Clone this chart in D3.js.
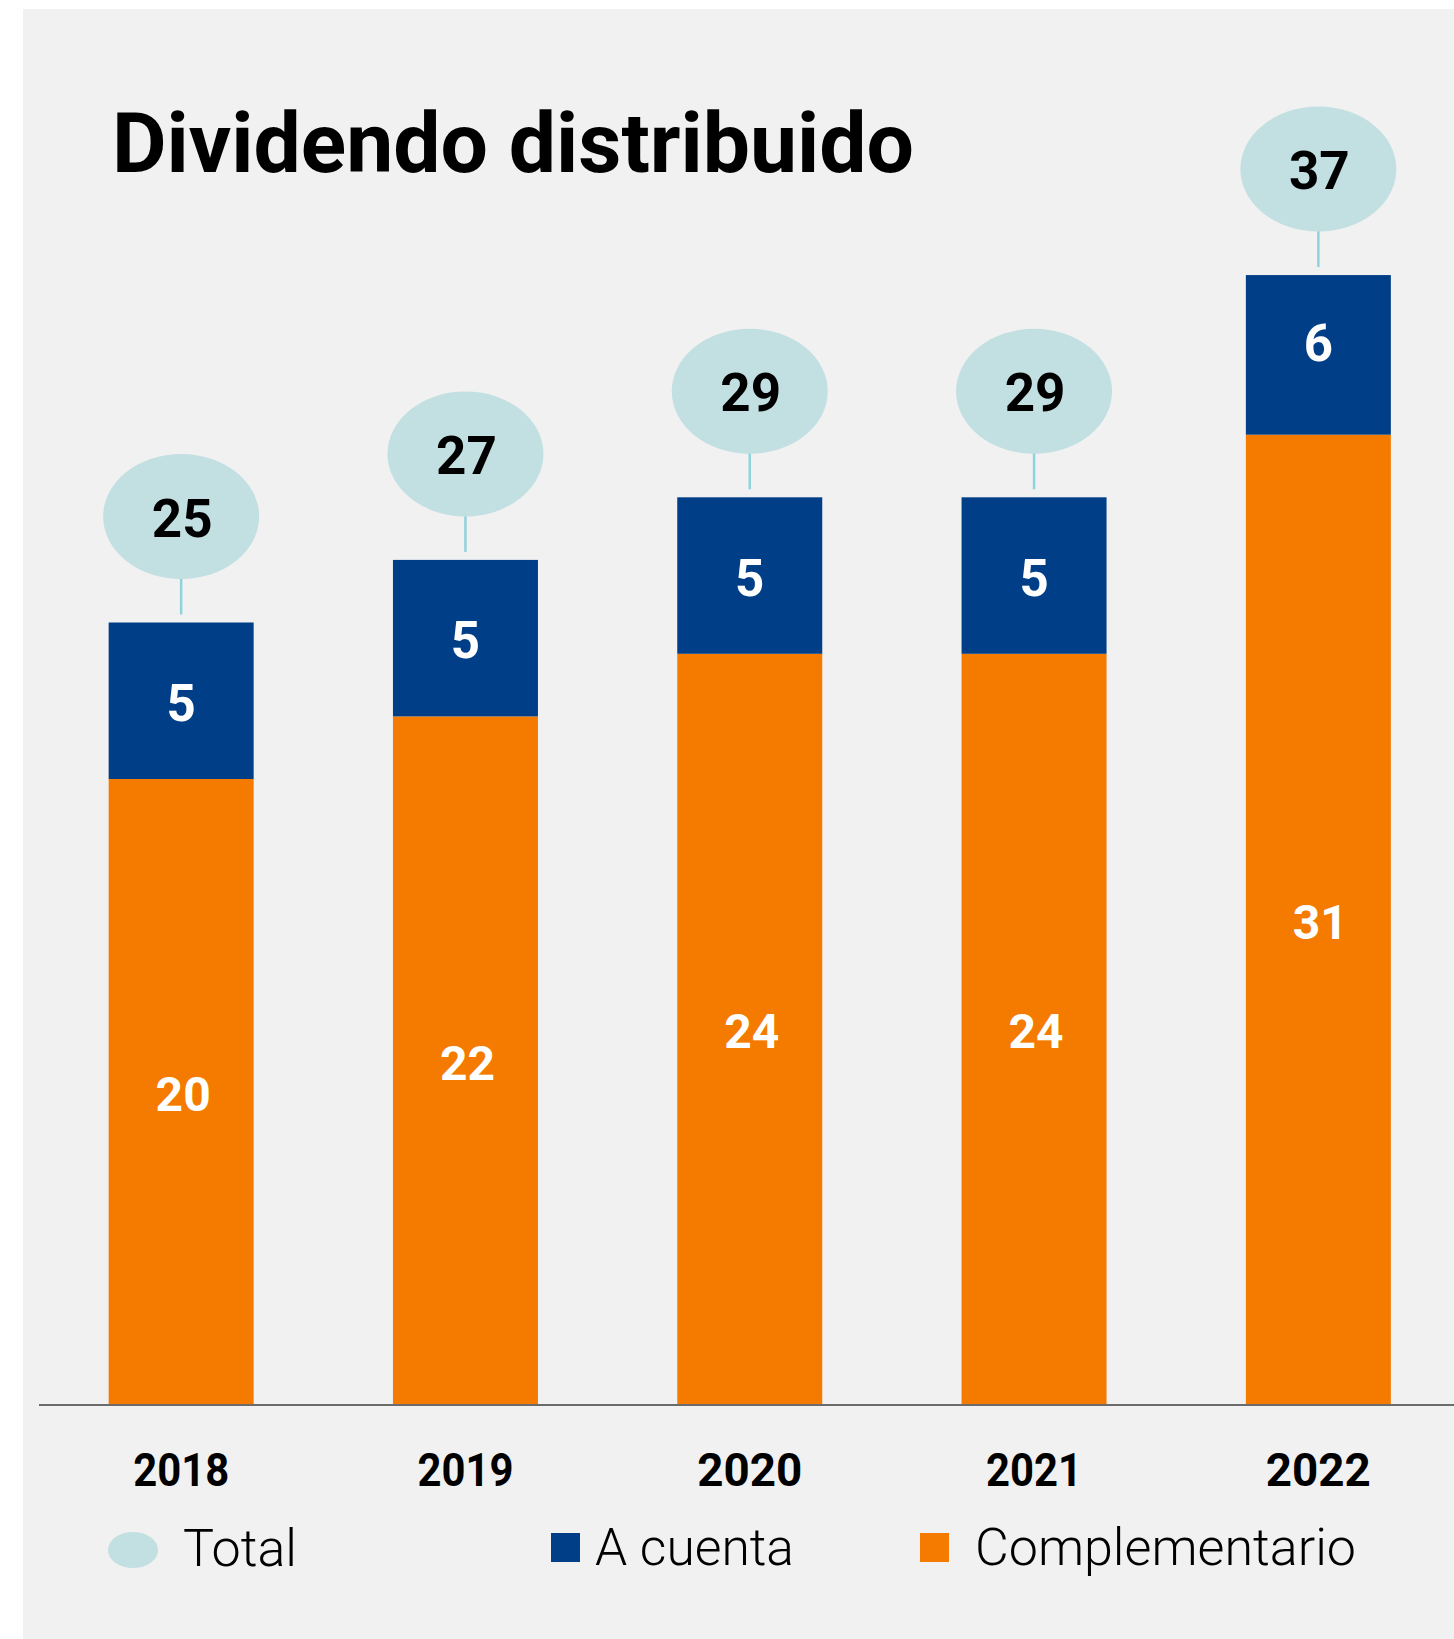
<!DOCTYPE html>
<html>
<head>
<meta charset="utf-8">
<script src="https://cdn.jsdelivr.net/npm/d3@7"></script>
<style>
  html, body { margin: 0; padding: 0; background: #ffffff; }
  svg { display: block; }
  text { font-family: Roboto, "Noto Sans", sans-serif; }
</style>
</head>
<body>
<svg id="chart" width="1454" height="1639"></svg>
<script>
// ---- data ----
const years = ["2018", "2019", "2020", "2021", "2022"];
const complementario = [20, 22, 24, 24, 31];          // orange segment
const aCuenta = [5, 5, 5, 5, 5.1];                    // blue segment (drawn height)
const aCuentaLabels = [5, 5, 5, 5, 6];                // blue segment labels
const totalLabels = [25, 27, 29, 29, 37];             // bubble labels
const legendLabels = ["Total", "A cuenta", "Complementario"];
const titleText = "Dividendo distribuido";

const colors = { comp: "#f47b00", cuenta: "#003f87", total: "#c2dfe1", stem: "#8fd3dc" };

const svg = d3.select("#chart");

// panel background
svg.append("rect").attr("x", 23).attr("y", 9).attr("width", 1454 - 23).attr("height", 1639 - 9)
  .attr("fill", "#f1f1f1");

// scales
const x = d3.scaleBand().domain(years).range([39, 1460.5]).paddingInner(0.49).paddingOuter(0.245);
const y = d3.scaleLinear().domain([0, 40]).range([1405, 1405 - 40 * 31.3]);

// title
svg.append("text").attr("x", 112).attr("y", 172)
  .attr("font-size", 84).attr("font-weight", 700).attr("fill", "#000")
  .attr("textLength", 802).attr("lengthAdjust", "spacingAndGlyphs")
  .text(titleText);

const rows = years.map((yr, i) => ({
  year: yr, comp: complementario[i], cuenta: aCuenta[i],
  cuentaLabel: aCuentaLabels[i], total: totalLabels[i]
}));

const g = svg.append("g");

// orange bars
g.selectAll(".comp").data(rows).join("rect").attr("class", "comp")
  .attr("x", d => x(d.year)).attr("width", x.bandwidth())
  .attr("y", d => y(d.comp)).attr("height", d => y(0) - y(d.comp))
  .attr("fill", colors.comp);

// blue bars
g.selectAll(".cuenta").data(rows).join("rect").attr("class", "cuenta")
  .attr("x", d => x(d.year)).attr("width", x.bandwidth())
  .attr("y", d => y(d.comp + d.cuenta)).attr("height", d => y(d.comp) - y(d.comp + d.cuenta))
  .attr("fill", colors.cuenta);

// baseline axis
const xAxis = d3.axisBottom(x).tickSize(0).tickPadding(0).tickFormat("");
const axG = svg.append("g").attr("transform", `translate(0,${y(0)})`).call(xAxis);
axG.select(".domain").attr("stroke", "#6b6b6b").attr("stroke-width", 2).attr("d", "M39,0H1454");

// year labels (proportional digits: narrower "1")
svg.selectAll(".year").data(rows).join("text").attr("class", "year")
  .attr("x", d => x(d.year) + x.bandwidth() / 2).attr("y", 1486)
  .attr("text-anchor", "middle").attr("font-size", 47).attr("font-weight", 700).attr("fill", "#000")
  .attr("textLength", d => 105 - 9 * (d.year.split("1").length - 1))
  .attr("lengthAdjust", "spacingAndGlyphs")
  .text(d => d.year);

// segment labels
const fsComp = 48, fsCuenta = 51;
g.selectAll(".compLabel").data(rows).join("text").attr("class", "compLabel")
  .attr("x", d => x(d.year) + x.bandwidth() / 2 + 2)
  .attr("y", d => y(d.comp / 2) + 0.355 * fsComp + 2)
  .attr("text-anchor", "middle").attr("font-size", fsComp).attr("font-weight", 700).attr("fill", "#fff")
  .text(d => d.comp);

g.selectAll(".cuentaLabel").data(rows).join("text").attr("class", "cuentaLabel")
  .attr("x", d => x(d.year) + x.bandwidth() / 2)
  .attr("y", d => y(d.comp + d.cuentaLabel / 2) + 0.355 * fsCuenta + 2)
  .attr("text-anchor", "middle").attr("font-size", fsCuenta).attr("font-weight", 700).attr("fill", "#fff")
  .text(d => d.cuentaLabel);

// total bubbles
const rx = 78, ry = 62.5, bubbleOffset = 106;
const bub = g.selectAll(".bubble").data(rows).join("g").attr("class", "bubble");
bub.append("line")
  .attr("x1", d => x(d.year) + x.bandwidth() / 2).attr("x2", d => x(d.year) + x.bandwidth() / 2)
  .attr("y1", d => y(d.comp + d.cuenta) - bubbleOffset + ry - 2)
  .attr("y2", d => y(d.comp + d.cuenta) - 8)
  .attr("stroke", colors.stem).attr("stroke-width", 2.5);
bub.append("ellipse")
  .attr("cx", d => x(d.year) + x.bandwidth() / 2)
  .attr("cy", d => y(d.comp + d.cuenta) - bubbleOffset)
  .attr("rx", rx).attr("ry", ry).attr("fill", colors.total);
bub.append("text")
  .attr("x", d => x(d.year) + x.bandwidth() / 2 + 1)
  .attr("y", d => y(d.comp + d.cuenta) - bubbleOffset + 20)
  .attr("text-anchor", "middle").attr("font-size", 53).attr("font-weight", 700).attr("fill", "#000")
  .text(d => d.total);

// legend
const lg = svg.append("g");
lg.append("ellipse").attr("cx", 133).attr("cy", 1550).attr("rx", 25).attr("ry", 18).attr("fill", colors.total);
lg.append("text").attr("x", 183).attr("y", 1566).attr("font-size", 52).attr("font-weight", 300).attr("fill", "#000")
  .attr("textLength", 114).attr("lengthAdjust", "spacingAndGlyphs").text(legendLabels[0]);
lg.append("rect").attr("x", 551).attr("y", 1533).attr("width", 29).attr("height", 29).attr("fill", colors.cuenta);
lg.append("text").attr("x", 595).attr("y", 1565).attr("font-size", 52).attr("font-weight", 300).attr("fill", "#000")
  .attr("textLength", 199).attr("lengthAdjust", "spacingAndGlyphs").text(legendLabels[1]);
lg.append("rect").attr("x", 920).attr("y", 1533).attr("width", 29).attr("height", 29).attr("fill", colors.comp);
lg.append("text").attr("x", 975).attr("y", 1565).attr("font-size", 52).attr("font-weight", 300).attr("fill", "#000")
  .attr("textLength", 381).attr("lengthAdjust", "spacingAndGlyphs").text(legendLabels[2]);
</script>
</body>
</html>
